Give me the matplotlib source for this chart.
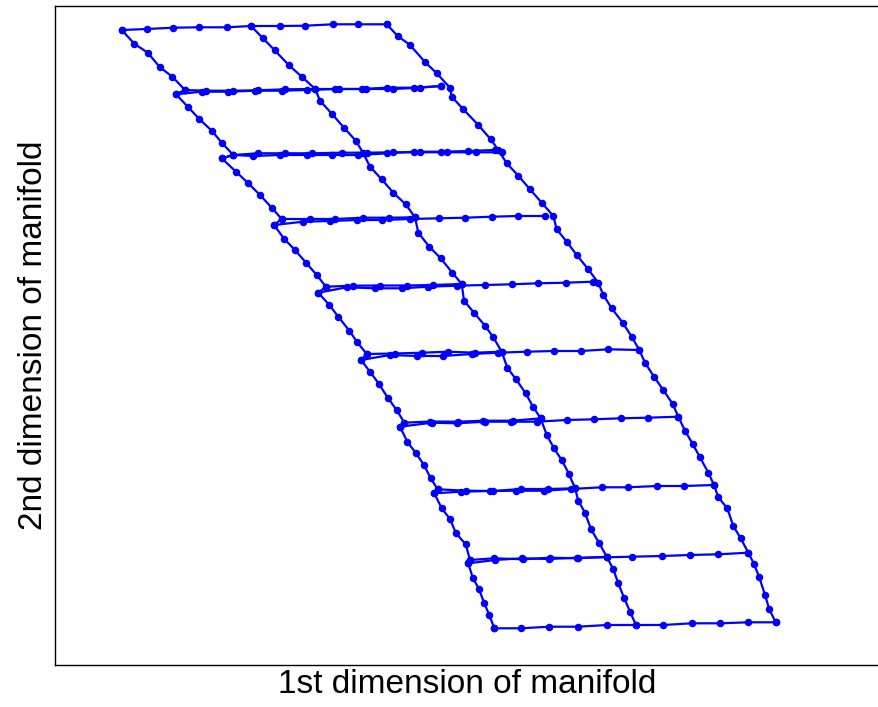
import matplotlib
matplotlib.use("Agg")
import matplotlib.pyplot as plt

# embedding of the grid trajectory (manifold coordinates, y grows downward)
# horizontal sweeps, first pass, one list per grid row
rows_x = [
    [121.7, 146.7, 173.3, 198.7, 227, 251, 280, 305.3, 333.3, 357.7, 386.7],
    [176, 201.7, 228.3, 255, 281.7, 306.7, 335, 361.7, 386.7, 414.3, 441],
    [221.7, 233.3, 253.3, 280, 306.7, 331.7, 358.3, 387.3, 414.3, 441, 468.3, 495],
    [274, 303.3, 330, 356.7, 381.7, 410, 439.3, 465, 491.7, 518.3, 545],
    [318.3, 346.7, 375, 401.7, 428.3, 456.7, 485, 511.7, 538.3, 565.7, 593.3],
    [361, 390, 416.7, 443.3, 471.7, 498.3, 526.7, 554, 581, 608.3, 639.3],
    [400, 431.7, 456.7, 485, 510.7, 536.7, 566.7, 594, 621, 647.7, 678.3],
    [434.3, 461, 490, 516, 544, 571, 601.7, 628.3, 656.7, 684, 714],
    [468.3, 495, 521.7, 549, 576.7, 607.3, 631.7, 662.3, 690, 718.3, 748.3],
    [494.3, 521, 549.3, 577.7, 607.3, 636, 663.3, 691.7, 720, 748.3, 775.7],
]
rows_y = [
    [30, 29, 27.7, 27.3, 27.3, 26, 26, 25.7, 24.3, 24.3, 24.3],
    [94.3, 91.7, 91.7, 90.7, 90.7, 90, 89, 89, 87.7, 87.7, 86],
    [158.3, 155, 156, 155, 155, 155, 155, 153.3, 151.7, 151.7, 151, 150],
    [225, 221.7, 221, 220, 220, 219, 218.3, 217.7, 216.7, 216, 216],
    [292.7, 287.3, 288.3, 288.3, 286.7, 285.7, 285, 284.3, 283.3, 282.7, 281.7],
    [360, 355, 356, 356, 354, 352.7, 351.7, 351, 351, 349.3, 350],
    [426.7, 422.7, 423.3, 421.7, 421.7, 421.7, 420, 419.3, 418.3, 417.7, 416.7],
    [493.3, 491.7, 491, 490.7, 490.7, 489, 487.3, 487.3, 486, 486, 485],
    [563.3, 560, 558.3, 559, 557.7, 557.3, 556.7, 556, 555, 554.3, 552.7],
    [628.3, 628.3, 626.7, 626.7, 625, 625, 625, 623.3, 623.3, 622.3, 622.3],
]

# second pass over the inner rows
rows2_x = [
    [185, 206, 232.7, 258.3, 285, 315, 339.3, 366, 393.3, 420, 441],
    [233.3, 258.3, 285, 311.7, 341.7, 366.7, 393.3, 420, 446.7, 476, 501.7],
    [281.7, 310, 335, 363.3, 389.3, 415],
    [326, 353.3, 380, 407.3, 433.3, 461.7],
    [366.7, 395, 421.7, 448.3, 475, 501.7],
    [404.3, 430, 458.3, 483.3, 513.3, 540.7],
    [437.7, 466, 493.3, 520.7, 548.3, 575],
    [470, 494, 523.3, 550, 578.3, 606.7],
]
rows2_y = [
    [90, 90.7, 90.7, 90.3, 89.3, 89, 89, 89, 89, 87.7, 86],
    [155, 153.3, 153.3, 153.3, 152.7, 152.7, 152.3, 152.3, 152.3, 152.3, 152.3],
    [219, 219, 219, 217.7, 217.7, 217.3],
    [286.7, 285.7, 285.5, 285.5, 285, 284],
    [354, 353.5, 352.7, 351.7, 352.7, 351.7],
    [422.7, 421.5, 421.7, 420.7, 420.7, 418.3],
    [489.3, 490.7, 491, 489, 489, 488.3],
    [560, 558.3, 559.3, 557.7, 558.3, 556.7],
]

# vertical sweeps: left edge, middle column, right edge
left_x = [121.7, 134.3, 147.7, 160, 172.3, 185,
          176, 188.3, 199.3, 211.7, 222.3, 233.3,
          221.7, 236, 248.3, 260, 271.7, 281.7,
          274, 284.3, 295, 306, 316.7, 326,
          318.3, 329.3, 338.3, 349.3, 357.3, 366.7,
          361, 370, 379, 387.7, 396.7, 404.3,
          400, 407.3, 416, 424, 430.7, 437.7,
          434.3, 441.7, 450, 456, 465.7, 470,
          468.3, 472.7, 479, 484, 489.3, 494.3]
left_y = [30, 43.7, 52.7, 67.3, 76.7, 90,
          94.3, 107.3, 119, 130.7, 143.3, 155,
          158.3, 171.7, 183.3, 195, 207.7, 219,
          225, 239, 250, 262.7, 275, 286.7,
          292.7, 305, 316.7, 330.7, 342.3, 354,
          360, 371.7, 384, 397.7, 410, 422.7,
          426.7, 441.7, 453.3, 465, 478.3, 489.3,
          493.3, 508.3, 519, 533.3, 544.3, 560,
          563.3, 577.7, 589, 602.7, 615, 628.3]

mid_x = [251, 262.7, 274.7, 288.7, 301.7, 315, 320, 332.3, 344, 356, 363.3,
         370, 381.7, 393.3, 405.7, 415, 418.3, 429.3, 440.7, 452.3, 461.7,
         464, 474, 485, 493.3, 501.7, 507.3, 516, 525.7, 533.3, 540.7,
         546.7, 554, 561.7, 569, 575, 578.3, 585, 591, 599, 606.7,
         613.3, 618.3, 624, 630, 636]
mid_y = [26, 38, 50.3, 65, 76.7, 88.7, 100.7, 114.3, 127.7, 141, 153.3,
         166.7, 179.3, 192.7, 204.3, 217.3, 232.7, 246.7, 258.3, 272.7, 284,
         300.7, 312.7, 325.7, 337.3, 351.7, 367.7, 379.3, 393.3, 407.3, 418.3,
         435, 448.3, 460, 474, 488.3, 500.7, 512.7, 529.3, 542.7, 556.7,
         569.3, 583.3, 597.7, 611.7, 625]

right_x = [386.7, 397.7, 410, 425, 436.7, 450, 451.7, 463.3, 478.3, 490.7,
           498.3, 506.7, 518.3, 530, 541.7, 553.3, 556.7, 566.7, 576.7, 588,
           598.3, 603.3, 611.7, 622.7, 631.7, 639.3, 645, 654, 663.3, 672.7,
           678.3, 685, 692.7, 700, 708.3, 714, 718.3, 727.3, 733.3, 740.7,
           748.3, 754, 759.3, 765, 769.3, 775.7]
right_y = [24.3, 36, 45, 62, 73.3, 87.7, 96.7, 109.3, 125, 139.3,
           150, 163.3, 175.7, 189.3, 202.7, 216, 229.3, 241.7, 255, 269,
           282.7, 295, 308.3, 322.7, 336.7, 350, 362.7, 376.7, 390, 404,
           416.7, 430.7, 444, 457.3, 472.7, 485, 497.3, 508.3, 526, 538.3,
           552.7, 564, 577.3, 595, 609.3, 622.3]

plt.rcParams["font.family"] = ["Liberation Sans", "DejaVu Sans"]

fig = plt.figure(figsize=(8.79, 7.07), dpi=100)
ax = fig.add_axes([55 / 879, 42 / 707, 1 - 55 / 879, 659 / 707])

style = dict(color="#0000ff", lw=1.6, marker="o", ms=4.4, mec="#0000ff", mfc="#0000ff")
for xs, ys in zip(rows_x, rows_y):
    ax.plot(xs, ys, **style)
for xs, ys in zip(rows2_x, rows2_y):
    ax.plot(xs, ys, **style)
ax.plot(left_x, left_y, **style)
ax.plot(mid_x, mid_y, **style)
ax.plot(right_x, right_y, **style)

ax.set_xlim(55, 879)
ax.set_ylim(665, 6)
ax.set_xticks([])
ax.set_yticks([])
ax.spines["right"].set_visible(False)
for s in ("left", "top", "bottom"):
    ax.spines[s].set_linewidth(1.0)
ax.set_xlabel("1st dimension of manifold", fontsize=24, labelpad=3)
ax.set_ylabel("2nd dimension of manifold", fontsize=24, labelpad=4.5)

fig.savefig("out.png", dpi=100)
